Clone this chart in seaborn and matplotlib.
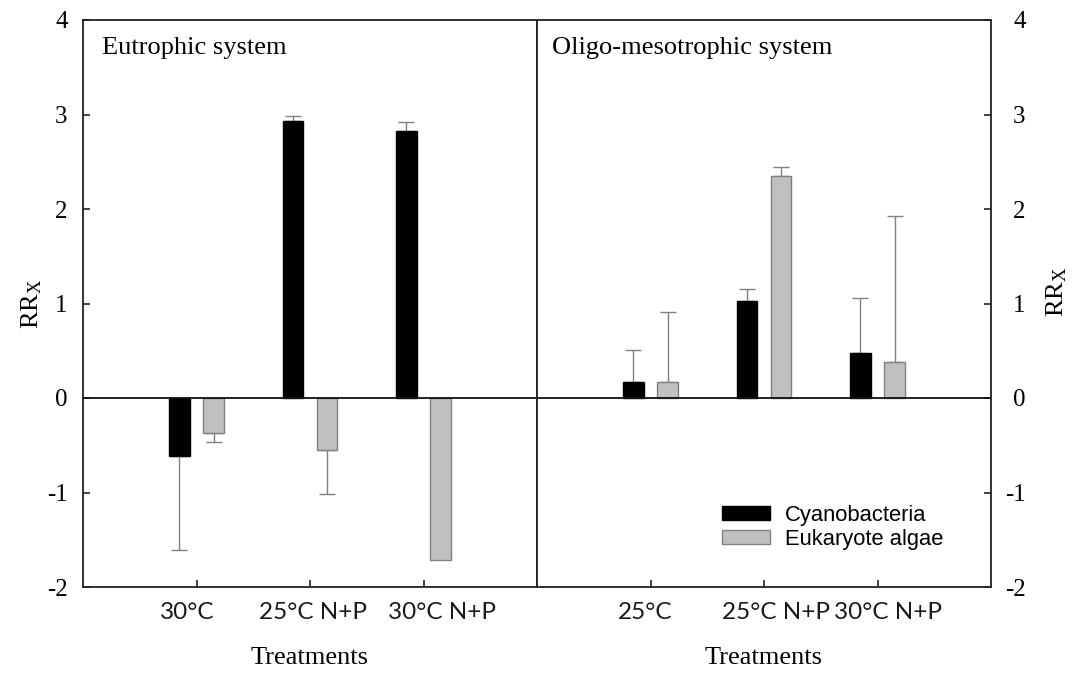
import numpy as np
import pandas as pd
import matplotlib
matplotlib.use("Agg")
import matplotlib.pyplot as plt
import matplotlib.transforms as mtransforms
import seaborn as sns

# ---------------- data ----------------
groups = ["Cyanobacteria", "Eukaryote algae"]

treat_eu = ["30°C", "25°C N+P", "30°C N+P"]
cyano_eu = [-0.61, 2.93, 2.83]
cyano_eu_err = [1.00, 0.05, 0.09]
algae_eu = [-0.37, -0.555, -1.71]
algae_eu_err = [0.10, 0.46, np.nan]

treat_ol = ["25°C", "25°C N+P", "30°C N+P"]
cyano_ol = [0.17, 1.03, 0.48]
cyano_ol_err = [0.34, 0.12, 0.58]
algae_ol = [0.17, 2.35, 0.38]
algae_ol_err = [0.74, 0.09, 1.55]

panel_titles = ["Eutrophic system", "Oligo-mesotrophic system"]
y_ticks = [-2, -1, 0, 1, 2, 3, 4]

# ---------------- style ----------------
sns.set_theme(style="white")
plt.rcParams["font.family"] = ["Liberation Serif", "DejaVu Serif"]
plt.rcParams["mathtext.fontset"] = "custom"
plt.rcParams["mathtext.rm"] = "Liberation Serif"
plt.rcParams["mathtext.it"] = "Liberation Serif:italic"

palette = {"Cyanobacteria": "#000000", "Eukaryote algae": "#c0c0c0"}
edges = {"Cyanobacteria": "#000000", "Eukaryote algae": "#808080"}
spine_col = "#222222"
txt_col = "#000000"

fig = plt.figure(figsize=(10.8, 6.75), dpi=100)
W, H = 1080, 675
ax1 = fig.add_axes([83 / W, 88 / H, 454 / W, 567 / H])
ax2 = fig.add_axes([537 / W, 88 / H, 454 / W, 567 / H])

# horizontal nudges (pixels) of the category labels, as in the original layout
label_shift = [[-9, 3, 19], [-5, 12, 11]]


def make_df(treats, cy, al):
    return pd.DataFrame({
        "Treatment": list(treats) * 2,
        "Group": [groups[0]] * len(treats) + [groups[1]] * len(treats),
        "RR": list(cy) + list(al),
    })


panels = [
    (ax1, treat_eu, cyano_eu, cyano_eu_err, algae_eu, algae_eu_err),
    (ax2, treat_ol, cyano_ol, cyano_ol_err, algae_ol, algae_ol_err),
]

for i, (ax, treats, cy, cye, al, ale) in enumerate(panels):
    df = make_df(treats, cy, al)
    sns.barplot(data=df, x="Treatment", y="RR", hue="Group",
                order=treats, hue_order=groups, palette=palette,
                width=0.6, gap=0.41, errorbar=None, ax=ax,
                linewidth=1.0, legend=(i == 1), zorder=3)
    errs = [cye, ale]
    for g, cont in zip(groups, ax.containers):
        for bar in cont:
            bar.set_edgecolor(edges[g])
            bar.set_linewidth(1.0)
    for cont, err in zip(ax.containers, errs):
        for bar, e in zip(cont, err):
            if np.isnan(e):
                continue
            xc = bar.get_x() + bar.get_width() / 2
            h = bar.get_height()
            if h >= 0:
                yerr = [[0], [e]]
            else:
                yerr = [[e], [0]]
            ax.errorbar([xc], [h], yerr=yerr, fmt="none", ecolor="#808080",
                        elinewidth=1.0, capsize=5.8, capthick=1.0, zorder=2)
    ax.axhline(0, color="#111111", lw=1.3, zorder=4)
    ax.set_xlim(-1, 3)
    ax.set_ylim(-2, 4)
    ax.set_yticks(y_ticks)
    ax.set_yticklabels([str(t) for t in y_ticks])
    for s in ax.spines.values():
        s.set_visible(True)
        s.set_color(spine_col)
        s.set_linewidth(1.3)
    ax.set_xticks(range(len(treats)))
    ax.set_xticklabels(treats, fontfamily=["Lato", "DejaVu Sans"], fontsize=17.5,
                       color="#1a1a1a")
    ax.tick_params(axis="x", direction="in", length=5, width=1.2, color=spine_col,
                   pad=11, bottom=True, top=False)
    for tick, dx in zip(ax.xaxis.get_major_ticks(), label_shift[i]):
        lab = tick.label1
        lab.set_transform(lab.get_transform() +
                          mtransforms.ScaledTranslation(dx / 100, 0, fig.dpi_scale_trans))
    ax.set_xlabel("Treatments", fontsize=19, color=txt_col)
    ax.xaxis.set_label_coords(0.5, -0.105)
    ax.text(0.042 if i == 0 else 0.033, 0.951, panel_titles[i], transform=ax.transAxes,
            fontsize=19, va="center", ha="left", color=txt_col)

# left panel y-axis
ax1.tick_params(axis="y", direction="in", length=5, width=1.2, color=spine_col,
                left=True, right=False, labelleft=True, labelright=False,
                labelsize=18, pad=11, labelcolor=txt_col)
ax1.set_ylabel("RR$_{\\mathrm{X}}$", fontsize=19, color=txt_col)
ax1.yaxis.set_label_coords(-0.085, 0.5)

# right panel y-axis
ax2.tick_params(axis="y", direction="in", length=5, width=1.2, color=spine_col,
                left=False, right=True, labelleft=False, labelright=True,
                labelsize=18, pad=25, labelcolor=txt_col)
for lab in ax2.get_yticklabels():
    lab.set_horizontalalignment("right")
ax2.yaxis.set_label_position("right")
ax2.set_ylabel("RR$_{\\mathrm{X}}$", fontsize=19, color=txt_col)
ax2.yaxis.set_label_coords(1.118, 0.52)

# legend
leg = ax2.get_legend()
handles, labels = ax2.get_legend_handles_labels()
leg.remove()
for h_, g in zip(handles, groups):
    h_.set_edgecolor(edges[g])
fig.legend(handles, labels, loc="upper left",
           bbox_to_anchor=(722 / W, (H - 505) / H), frameon=False,
           prop={"family": ["Liberation Sans", "DejaVu Sans"], "size": 15.8},
           labelcolor=txt_col,
           handlelength=2.2, handleheight=0.6, handletextpad=0.65,
           labelspacing=0.12, borderpad=0, borderaxespad=0)

fig.savefig("out.png", dpi=100)
